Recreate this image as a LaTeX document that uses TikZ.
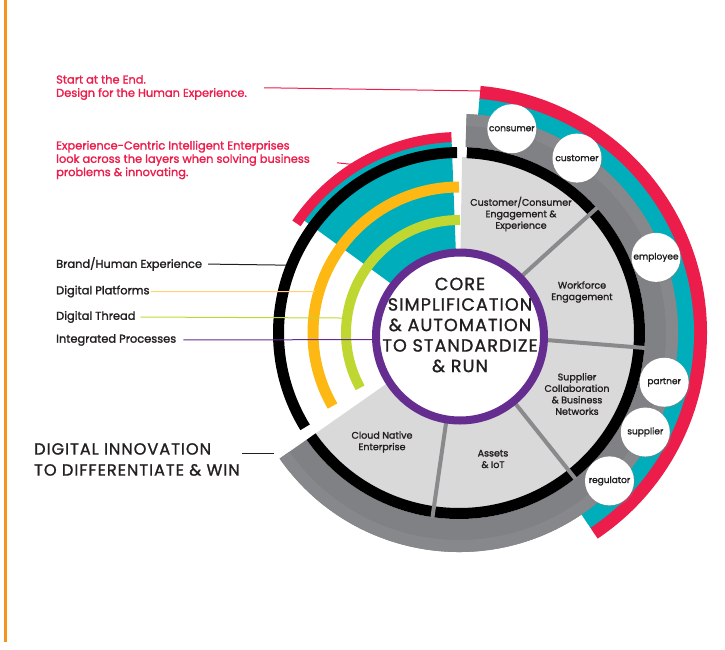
\documentclass[tikz,border=0pt]{standalone}
\usepackage{fontspec}
\setmainfont{Poppins}
\newfontfamily\labelfont{Poppins}[FakeBold=1.6]
\newfontfamily\capsfont{Poppins}[FakeBold=1.2, LetterSpace=6]
\usetikzlibrary{shadows}
\definecolor{rose}{RGB}{236, 28, 75}
\definecolor{aqua}{RGB}{0, 174, 187}
\definecolor{amber}{RGB}{253, 184, 19}
\definecolor{leaf}{RGB}{191, 215, 48}
\definecolor{coreviolet}{RGB}{102, 45, 145}
\definecolor{band}{RGB}{128, 129, 132}
\definecolor{bandlight}{RGB}{135, 136, 139}
\definecolor{sector}{RGB}{217, 217, 217}
\definecolor{divgray}{RGB}{138, 138, 141}
\definecolor{margin}{RGB}{247, 148, 30}
\definecolor{ink}{RGB}{35, 31, 32}
% annular piece: colour, from angle, to angle, inner radius, outer radius
\newcommand{\ringpart}[5]{%
  \fill[#1] (#2:#4) arc[start angle=#2, end angle=#3, radius=#4]
    -- (#3:#5) arc[start angle=#3, end angle=#2, radius=#5] -- cycle;}
\tikzset{
  leftlbl/.style={font=\labelfont\fontsize{11.4}{13.3}\selectfont, anchor=west,
    align=left, inner sep=0pt, text=ink},
  notelbl/.style={leftlbl, text=rose},
  sectlbl/.style={font=\labelfont\fontsize{9.5}{11.5}\selectfont, align=center,
    inner sep=0pt, text=ink},
  tag/.style={circle, fill=white, minimum size=49pt, inner sep=0pt, text=ink,
    font=\labelfont\fontsize{9}{10}\selectfont,
    drop shadow={shadow xshift=1.5pt, shadow yshift=-1.5pt, opacity=0.35}},
  ring/.style={line width=11pt, black},
  divider/.style={line width=4pt, divgray},
  leader/.style={line width=1pt}
}
\begin{document}
\begin{tikzpicture}[x=1pt, y=1pt]
  \useasboundingbox (-459,-316) rectangle (266,333);

  % margin rule
  \draw[line width=3pt, margin] (-453,333) -- (-453,-309);

  % outer bands, right side
  \ringpart{rose}{85}{-56}{234}{248}
  \ringpart{aqua}{85}{-56}{217}{235}
  \ringpart{band}{88}{-145}{186}{219}
  \ringpart{bandlight}{88}{-145}{207}{219}

  % business sectors
  \ringpart{sector}{89}{-145}{60}{176}
  \draw[ring] (87.5:180.5) arc[start angle=87.5, end angle=-145, radius=180.5];
  \foreach \a in {42.2, -4.6, -51.4, -98.2}
    \draw[divider] (\a:84) -- (\a:187);

  % experience layers, left side
  \ringpart{aqua}{92.2}{144}{60}{192}
  \ringpart{rose}{92.2}{146}{191}{201}
  \draw[ring] (90.6:180.5) arc[start angle=90.6, end angle=211.5, radius=180.5];
  \draw[line width=11pt, amber] (90:146) arc[start angle=90, end angle=210, radius=146];
  \draw[line width=10pt, leaf] (89.5:113) arc[start angle=89.5, end angle=209, radius=113];

  % core
  \node[circle, draw=coreviolet, line width=8pt, fill=white, minimum size=168pt,
    inner sep=0pt] (corering) at (1,-3.5) {};
  \node[font=\capsfont\fontsize{17.6}{20.5}\selectfont, align=center, text=ink] (coretext)
    at (1,8) {CORE\\SIMPLIFICATION\\\&~AUTOMATION\\TO STANDARDIZE\\\&~RUN};

  % stakeholders
  \foreach \ang/\who in {75.5/consumer, 56/customer, 21/employee,
      -13.5/partner, -28/supplier, -44.5/regulator}
    \node[tag] (\who) at (\ang:211) {\who};

  % sector labels
  \node[sectlbl] (custsect) at (62,119) {Customer/Consumer\\Engagement \&\\Experience};
  \node[sectlbl] (worksect) at (123,41) {Workforce\\Engagement};
  \node[sectlbl] (suppsect) at (118,-61) {Supplier\\Collaboration\\\& Business\\Networks};
  \node[sectlbl] (assetsect) at (34,-126) {Assets\\\& IoT};
  \node[sectlbl] (cloudsect) at (-77,-109) {Cloud Native\\Enterprise};

  % notes and layer labels
  \node[notelbl] (startlbl) at (-403,245.5) {Start at the End.\\Design for the Human Experience.};
  \node[notelbl] (centriclbl) at (-403,173) {Experience-Centric Intelligent Enterprises\\look across the layers when solving business\\problems \& innovating.};
  \node[leftlbl] (brandlbl) at (-403,69) {Brand/Human Experience};
  \node[leftlbl] (platlbl) at (-403,41.5) {Digital Platforms};
  \node[leftlbl] (threadlbl) at (-403,16) {Digital Thread};
  \node[leftlbl] (intlbl) at (-403,-7) {Integrated Processes};
  \node[font=\capsfont\fontsize{16.2}{21}\selectfont, align=left, anchor=west, inner sep=0pt,
    text=ink] (innovlbl) at (-425,-126.5) {DIGITAL INNOVATION\\TO DIFFERENTIATE \& WIN};

  % leaders
  \coordinate (rosetip) at (85:243);
  \coordinate (centrictip) at (121:196);
  \coordinate (brandtip) at (158.6:186);
  \coordinate (plattip) at (164:150);
  \coordinate (threadtip) at (172.7:118);
  \coordinate (innovtip) at (-185,-120);
  \draw[leader, rose, shorten <=17pt] (startlbl.east) -- (rosetip);
  \draw[leader, rose, shorten <=27pt] (centriclbl.east) -- (centrictip);
  \draw[leader, ink, shorten <=6pt] (brandlbl.east) -- (brandtip);
  \draw[leader, amber!60, shorten <=1pt] (platlbl.east) -- (plattip);
  \draw[leader, leaf, shorten <=5pt] (threadlbl.east) -- (threadtip);
  \draw[leader, coreviolet, shorten <=7pt] (intlbl.east) -- (corering.182);
  \draw[leader, ink] (innovtip) -- ++(-32,0);
\end{tikzpicture}
\end{document}
